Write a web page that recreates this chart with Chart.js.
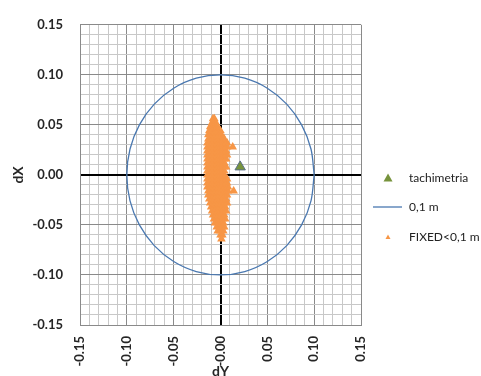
<!DOCTYPE html>
<html>
<head>
<meta charset="utf-8">
<script src="https://cdn.jsdelivr.net/npm/chart.js@4"></script>
<style>
  html, body { margin: 0; padding: 0; background: #fff; }
  #wrap { width: 481px; height: 376px; position: relative; }
</style>
</head>
<body>
<div id="wrap"><canvas id="chart"></canvas></div>
<script>
// axis tick labels (every 0.05)
const xTickLabels = ['-0.15', '-0.10', '-0.05', '-0.00', '0.05', '0.10', '0.15'];
const yTickLabels = ['-0.15', '-0.10', '-0.05', '0.00', '0.05', '0.10', '0.15'];

// total station point
const tachimetria = [{ x: 0.021, y: 0.008 }];

// 0,1 m tolerance circle, listed every 15 degrees
const circleX = [0.1, 0.0966, 0.0866, 0.0707, 0.05, 0.0259, 0, -0.0259, -0.05, -0.0707, -0.0866, -0.0966,
  -0.1, -0.0966, -0.0866, -0.0707, -0.05, -0.0259, 0, 0.0259, 0.05, 0.0707, 0.0866, 0.0966, 0.1];
const circleY = [0, 0.0259, 0.05, 0.0707, 0.0866, 0.0966, 0.1, 0.0966, 0.0866, 0.0707, 0.05, 0.0259,
  0, -0.0259, -0.05, -0.0707, -0.0866, -0.0966, -0.1, -0.0966, -0.0866, -0.0707, -0.05, -0.0259, 0];

// FIXED solutions < 0,1 m (dX level -> dY values)
const fixedRowsY = [0.056, 0.052, 0.048, 0.044, 0.040, 0.036, 0.032, 0.028, 0.024, 0.020, 0.016, 0.012,
  0.008, 0.004, 0.000, -0.004, -0.008, -0.012, -0.016, -0.020, -0.024, -0.028, -0.032, -0.036,
  -0.040, -0.044, -0.048, -0.052, -0.056, -0.060, -0.064];
const fixedRowsX = [
  [-0.008, -0.0065],
  [-0.009, -0.007, -0.005],
  [-0.011, -0.008, -0.005, -0.003],
  [-0.012, -0.009, -0.006, -0.003, 0.000],
  [-0.013, -0.010, -0.007, -0.004, -0.001, 0.001],
  [-0.013, -0.010, -0.007, -0.004, -0.001, 0.002, 0.004],
  [-0.014, -0.011, -0.008, -0.005, -0.002, 0.001, 0.004, 0.007],
  [-0.014, -0.011, -0.008, -0.005, -0.002, 0.001, 0.004, 0.007, 0.013],
  [-0.014, -0.011, -0.008, -0.005, -0.002, 0.001, 0.004, 0.006],
  [-0.014, -0.011, -0.008, -0.005, -0.002, 0.001, 0.004, 0.007],
  [-0.014, -0.011, -0.008, -0.005, -0.002, 0.001, 0.004, 0.006],
  [-0.014, -0.011, -0.008, -0.005, -0.002, 0.001, 0.004],
  [-0.014, -0.011, -0.008, -0.005, -0.002, 0.001, 0.004, 0.006],
  [-0.014, -0.011, -0.008, -0.005, -0.002, 0.001, 0.004],
  [-0.014, -0.011, -0.008, -0.005, -0.002, 0.001, 0.004],
  [-0.014, -0.011, -0.008, -0.005, -0.002, 0.001, 0.004, 0.007],
  [-0.014, -0.011, -0.008, -0.005, -0.002, 0.001, 0.004, 0.007],
  [-0.014, -0.011, -0.008, -0.005, -0.002, 0.001, 0.004, 0.008],
  [-0.013, -0.010, -0.007, -0.004, -0.001, 0.002, 0.005, 0.008, 0.014],
  [-0.013, -0.010, -0.007, -0.004, -0.001, 0.002, 0.005, 0.007],
  [-0.012, -0.009, -0.006, -0.003, 0.000, 0.003, 0.006],
  [-0.011, -0.008, -0.005, -0.002, 0.001, 0.004, 0.007],
  [-0.010, -0.007, -0.004, -0.001, 0.002, 0.005],
  [-0.009, -0.006, -0.003, 0.000, 0.003, 0.006],
  [-0.008, -0.005, -0.002, 0.001, 0.004],
  [-0.007, -0.004, -0.001, 0.002, 0.005],
  [-0.006, -0.003, 0.000, 0.003],
  [-0.004, -0.001, 0.002, 0.004],
  [-0.003, 0.000, 0.003],
  [0.000, 0.002],
  [0.001]
];

const circle = circleX.map((x, i) => ({ x, y: circleY[i] }));
const fixed = fixedRowsY.flatMap((y, i) => fixedRowsX[i].map(x => ({ x, y })));

const FONT = 'Lato, "Liberation Sans", sans-serif';

// legend drawn to the right of the plot, like the spreadsheet one
const sideLegend = {
  id: 'sideLegend',
  afterDraw(chart) {
    const { ctx, chartArea } = chart;
    const x0 = chartArea.right + 12;
    const rows = [178, 207, 237];
    ctx.save();
    ctx.font = '12px ' + FONT;
    ctx.textBaseline = 'middle';
    chart.data.datasets.forEach((ds, i) => {
      const y = rows[i];
      if (ds.showLine) {
        ctx.strokeStyle = ds.borderColor;
        ctx.lineWidth = 1.3;
        ctx.beginPath();
        ctx.moveTo(x0, y);
        ctx.lineTo(x0 + 29, y);
        ctx.stroke();
      } else {
        const r = i === 0 ? 4.5 : 2.5;
        const cx = x0 + 15;
        ctx.fillStyle = ds.backgroundColor;
        ctx.beginPath();
        ctx.moveTo(cx, y - r);
        ctx.lineTo(cx + r, y + r * 0.75);
        ctx.lineTo(cx - r, y + r * 0.75);
        ctx.closePath();
        ctx.fill();
      }
      ctx.fillStyle = '#222';
      ctx.fillText(ds.label, x0 + 36, y);
    });
    ctx.restore();
  }
};

const gridColor = (ctx) => {
  if (ctx.index === 15) return '#000';
  return ctx.index % 5 === 0 ? '#8a8a8a' : '#c8c8c8';
};
const gridWidth = (ctx) => (ctx.index === 15 ? 2 : 1);

new Chart(document.getElementById('chart'), {
  type: 'scatter',
  data: {
    datasets: [
      {
        label: 'tachimetria',
        data: tachimetria,
        pointStyle: 'triangle',
        pointRadius: 6,
        backgroundColor: '#77933c',
        borderColor: '#5a6f88',
        borderWidth: 1
      },
      {
        label: '0,1 m',
        data: circle,
        showLine: true,
        tension: 0.33,
        pointRadius: 0,
        borderColor: '#4a78b0',
        borderWidth: 1.3,
        backgroundColor: '#4a78b0'
      },
      {
        label: 'FIXED<0,1 m',
        data: fixed,
        pointStyle: 'triangle',
        pointRadius: 3.5,
        borderWidth: 1.5,
        backgroundColor: '#f79646',
        borderColor: '#f79646'
      }
    ]
  },
  options: {
    responsive: true,
    maintainAspectRatio: false,
    animation: false,
    layout: { padding: { top: 18, right: 120, bottom: 0, left: 0 } },
    plugins: {
      legend: { display: false },
      tooltip: { enabled: false }
    },
    scales: {
      x: {
        type: 'linear',
        min: -0.15,
        max: 0.15,
        afterFit: (scale) => { scale.height = 51; },
        ticks: {
          stepSize: 0.01,
          autoSkip: false,
          minRotation: 90,
          maxRotation: 90,
          padding: 11,
          color: '#262626',
          font: { family: FONT, size: 13, weight: 'bold' },
          callback: (value, index) => (index % 5 === 0 ? xTickLabels[index / 5] : '')
        },
        grid: { color: gridColor, lineWidth: gridWidth, drawTicks: false },
        border: { display: true, color: '#8a8a8a' },
        title: {
          display: true,
          text: 'dY',
          color: '#262626',
          font: { family: FONT, size: 14, weight: 'bold' },
          padding: { top: 0, bottom: -4 }
        }
      },
      y: {
        type: 'linear',
        min: -0.15,
        max: 0.15,
        afterFit: (scale) => { scale.width = 80; },
        ticks: {
          stepSize: 0.01,
          autoSkip: false,
          padding: 17,
          color: '#262626',
          font: { family: FONT, size: 13, weight: 'bold' },
          callback: (value, index) => (index % 5 === 0 ? yTickLabels[index / 5] : '')
        },
        grid: { color: gridColor, lineWidth: gridWidth, drawTicks: false },
        border: { display: true, color: '#8a8a8a' },
        title: {
          display: true,
          text: 'dX',
          color: '#262626',
          font: { family: FONT, size: 14, weight: 'bold' },
          padding: { top: 10, bottom: 0 }
        }
      }
    }
  },
  plugins: [sideLegend]
});
</script>
</body>
</html>
